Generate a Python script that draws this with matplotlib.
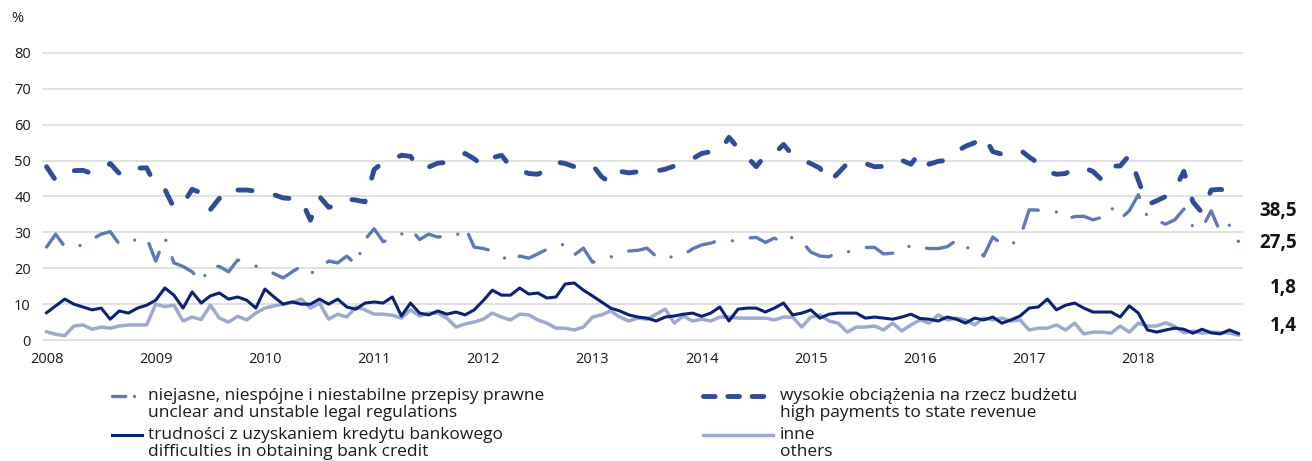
import matplotlib
matplotlib.use('Agg')
import matplotlib.pyplot as plt
from matplotlib.lines import Line2D
import numpy as np

plt.rcParams['font.family'] = ['Open Sans', 'DejaVu Sans']

years = [str(y) for y in range(2008, 2019)]

# monthly values, Jan 2008 - Dec 2018 (%)
niejasne = [
    25.9, 29.5, 26.0, 26.0, 26.5, 28.1, 29.5, 30.2, 26.7, 27.5, 28.0, 28.5,
    22.0, 28.5, 21.5, 20.5, 19.0, 16.2, 20.6, 20.5, 19.0, 22.3, 21.5, 20.6,
    19.8, 18.5, 17.3, 19.0, 20.6, 18.6, 19.7, 22.0, 21.5, 23.4, 21.0, 28.0,
    31.0, 27.4, 28.2, 29.5, 31.0, 28.0, 29.5, 28.7, 29.0, 29.0, 31.5, 25.9,
    25.5, 24.8, 23.5, 21.5, 23.4, 22.8, 24.0, 25.3, 26.0, 26.8, 23.7, 25.6,
    21.7, 22.0, 23.1, 24.2, 24.8, 25.0, 25.6, 23.3, 22.5, 23.5, 23.7, 25.4,
    26.5, 27.0, 27.9, 27.7, 27.6, 28.4, 28.6, 27.2, 28.4, 27.0, 28.7, 27.5,
    24.5, 23.4, 23.2, 24.5, 24.5, 25.3, 25.8, 25.8, 24.0, 24.2, 24.5, 26.5,
    25.8, 25.5, 25.5, 26.0, 27.8, 25.6, 26.0, 23.4, 28.7, 26.7, 26.5, 28.5,
    36.3, 36.2, 36.2, 35.7, 33.7, 34.4, 34.5, 33.5, 34.2, 37.0, 33.7, 36.0,
    40.5, 34.3, 33.3, 32.3, 33.5, 36.5, 31.5, 31.2, 36.0, 30.0, 32.0, 27.5,
]
wysokie = [
    48.3, 44.5, 46.5, 47.2, 47.3, 46.4, 47.5, 49.2, 46.4, 46.0, 47.9, 48.0,
    43.0, 42.0, 36.8, 38.0, 42.0, 41.0, 36.3, 39.5, 42.5, 41.8, 41.8, 41.5,
    41.2, 40.5, 39.6, 39.4, 39.0, 33.4, 40.0, 37.0, 37.5, 39.3, 39.0, 38.5,
    47.5, 49.5, 50.2, 51.5, 51.2, 47.5, 48.2, 49.3, 49.5, 50.5, 52.0, 50.5,
    48.5, 50.8, 51.5, 48.3, 47.4, 46.4, 46.2, 47.5, 49.6, 49.2, 48.3, 48.6,
    48.8, 45.5, 43.8, 47.0, 46.6, 46.9, 46.9, 47.1, 47.6, 48.5, 49.3, 50.5,
    52.0, 52.5, 52.5, 56.5, 53.5, 51.0, 48.3, 51.5, 52.0, 54.5, 51.5, 50.3,
    49.2, 47.9, 44.0, 46.5, 49.2, 49.5, 49.2, 48.3, 48.4, 48.5, 50.1, 49.0,
    52.3, 49.0, 49.8, 50.1, 52.5, 54.0, 55.0, 57.0, 52.5, 51.8, 52.6, 53.0,
    51.0, 49.3, 46.9, 46.2, 46.4, 48.0, 48.0, 47.0, 44.6, 48.5, 48.5, 51.5,
    44.5, 37.7, 38.8, 40.0, 42.0, 47.0, 38.5, 35.5, 41.8, 42.0, 41.5, 38.5,
]
trudnosci = [
    7.6, 9.5, 11.4, 10.0, 9.2, 8.4, 8.9, 5.8, 8.1, 7.5, 8.9, 9.7,
    11.1, 14.5, 12.5, 8.9, 13.4, 10.3, 12.3, 13.1, 11.4, 12.0, 11.1, 8.9,
    14.2, 12.0, 10.0, 10.6, 10.0, 10.0, 11.4, 10.0, 11.4, 9.2, 8.6, 10.3,
    10.6, 10.3, 12.0, 6.7, 10.3, 7.5, 7.0, 8.1, 7.2, 7.8, 7.0, 8.4,
    11.0, 13.9, 12.5, 12.5, 14.5, 12.8, 13.1, 11.7, 12.0, 15.6, 15.9, 13.9,
    12.3, 10.6, 8.9, 8.1, 7.0, 6.4, 6.1, 5.3, 6.4, 6.7, 7.2, 7.5,
    6.6, 7.5, 9.2, 5.3, 8.6, 8.9, 8.9, 7.8, 8.9, 10.3, 7.0, 7.5,
    8.4, 6.1, 7.2, 7.5, 7.5, 7.5, 6.1, 6.4, 6.1, 5.8, 6.4, 7.2,
    6.0, 5.8, 5.3, 6.4, 5.8, 4.7, 6.1, 5.6, 6.4, 4.7, 5.6, 6.7,
    8.9, 9.2, 11.4, 8.4, 9.7, 10.3, 8.9, 7.8, 7.8, 7.8, 6.4, 9.5,
    7.5, 2.8, 2.2, 2.8, 3.3, 3.0, 1.9, 3.0, 2.0, 1.7, 2.8, 1.8,
]
inne = [
    2.3, 1.6, 1.2, 3.9, 4.2, 3.0, 3.6, 3.3, 3.9, 4.2, 4.2, 4.2,
    10.0, 9.3, 9.7, 5.3, 6.4, 5.7, 9.7, 6.1, 5.0, 6.6, 5.6, 7.5,
    8.9, 9.5, 10.0, 10.5, 11.4, 8.9, 10.3, 5.8, 7.2, 6.4, 9.2, 8.4,
    7.2, 7.2, 6.9, 6.1, 8.4, 6.7, 7.5, 7.5, 6.1, 3.6, 4.5, 5.0,
    5.8, 7.5, 6.4, 5.6, 7.2, 7.0, 5.6, 4.7, 3.3, 3.3, 2.8, 3.6,
    6.4, 7.0, 8.1, 6.4, 5.3, 6.1, 5.8, 7.2, 8.6, 4.7, 6.7, 5.3,
    5.8, 5.3, 6.4, 6.4, 6.1, 6.1, 6.1, 6.1, 5.6, 6.4, 6.4, 3.6,
    6.4, 7.0, 5.3, 4.7, 2.2, 3.6, 3.6, 3.9, 2.8, 4.7, 2.5, 4.2,
    5.6, 4.7, 7.0, 5.6, 6.1, 5.6, 4.2, 6.1, 5.6, 6.1, 5.3, 5.6,
    2.8, 3.3, 3.3, 4.2, 2.8, 4.7, 1.7, 2.2, 2.2, 1.9, 3.9, 2.2,
    4.7, 3.9, 3.9, 4.8, 3.8, 2.0, 2.5, 1.9, 2.2, 2.1, 1.9, 1.4,
]

labels_pl = ['niejasne, niespójne i niestabilne przepisy prawne',
             'wysokie obciążenia na rzecz budżetu',
             'trudności z uzyskaniem kredytu bankowego',
             'inne']
labels_en = ['unclear and unstable legal regulations',
             'high payments to state revenue',
             'difficulties in obtaining bank credit',
             'others']

W, H = 1312, 461
fig = plt.figure(figsize=(W / 100, H / 100), dpi=100)
ax = fig.add_axes([42 / W, 1 - 343.6 / H, 1201 / W, 294.2 / H])

x = np.arange(len(inne))
styles = [
    dict(color='#5F78B6', lw=2.4, linestyle=(0, (8.5, 5.5, 0.01, 5.5)), dash_capstyle='round'),
    dict(color='#2F4C96', lw=3.5, linestyle=(0, (2.9, 4.9)), dash_capstyle='round'),
    dict(color='#0B2173', lw=2.2, solid_joinstyle='round'),
    dict(color='#9EA9D2', lw=2.5, solid_joinstyle='round'),
]
series = [niejasne, wysokie, trudnosci, inne]
for i in [3, 2, 0, 1]:
    ax.plot(x, series[i], **styles[i])

ax.set_xlim(-0.5, len(x) - 0.5)
ax.set_ylim(-1, 81)
ax.set_yticks(range(0, 81, 10))
ax.set_xticks(x[::12])
ax.set_xticklabels(years)
ax.grid(axis='y', color='#D9D9D9', lw=1.1)
ax.set_axisbelow(True)
for s in ax.spines.values():
    s.set_visible(False)
ax.tick_params(length=0, labelsize=10.5, colors='#1a1a1a')
ax.tick_params(axis='y', pad=8)
ax.tick_params(axis='x', pad=6)

fig.text(17 / W, 1 - 19 / H, '%', ha='center', va='center', fontsize=10.5, color='#1a1a1a')

# end-of-series value labels
end_pos = [27.0, 35.9, 14.5, 3.9]
for s, yp in zip(series, end_pos):
    ax.text((1297 - 42) / 1201, yp, f'{s[-1]:.1f}'.replace('.', ','),
            transform=ax.get_yaxis_transform(), ha='right', va='center',
            fontsize=13.5, fontweight='bold', color='#111111')

# legend drawn by hand: two columns, two-line labels
col_handle = [(112, 142), (703, 773)]
col_text = [148, 780]
row_y = [396, 435]
for k in range(4):
    c, r = k % 2, k // 2
    x0, x1 = col_handle[c]
    yy = 1 - row_y[r] / H
    st = dict(styles[k])
    if k == 1:
        st['linestyle'] = (0, (2.4, 2.6))
    if k == 0:
        st['linestyle'] = (0, (4.0, 2.6, 0.01, 2.6))
    fig.add_artist(Line2D([x0 / W, x1 / W], [yy, yy], transform=fig.transFigure, **st))
    fig.text(col_text[c] / W, yy, labels_pl[k], ha='left', va='center', fontsize=12.5, color='#1a1a1a')
    fig.text(col_text[c] / W, yy - 17 / H, labels_en[k], ha='left', va='center', fontsize=12.5, color='#1a1a1a')

fig.savefig('out.png', dpi=100)
